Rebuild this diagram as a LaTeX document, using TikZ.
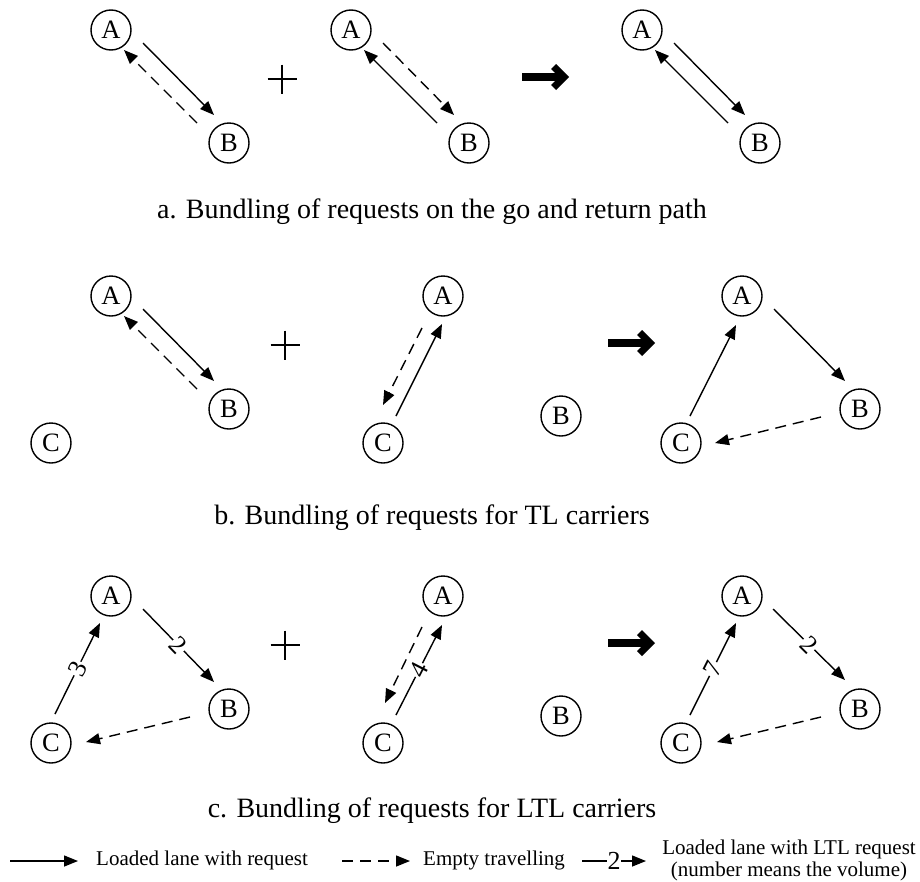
\documentclass[tikz,border=0pt]{standalone}
\usepackage{fontspec}
\setmainfont{Liberation Serif}
\usetikzlibrary{arrows.meta}
\begin{document}
\begin{tikzpicture}[x=1pt,y=-1pt,
  stn/.style={circle,draw,line width=1.4pt,minimum size=40pt,inner sep=0pt,font=\fontsize{26.5}{26.5}\selectfont},
  load/.style={line width=1.4pt,-{Triangle[length=14pt,width=11pt]}},
  empty/.style={load,dash pattern=on 11pt off 7pt},
  vol/.style={fill=white,inner sep=1pt,sloped,font=\fontsize{26}{26}\selectfont},
  captxt/.style={anchor=base,inner sep=0pt,font=\fontsize{28}{28}\selectfont},
  legtxt/.style={anchor=base west,inner sep=0pt,font=\fontsize{21}{21}\selectfont},
  legtxtc/.style={anchor=base,inner sep=0pt,font=\fontsize{21}{21}\selectfont},
  plussign/.pic={\draw[line width=2.7pt] (-14.5,0) -- (14.5,0) (0,-14.5) -- (0,14.5);},
  bigarrow/.pic={\fill (0,-4) rectangle (39,4);
    \fill (47,0) -- (34,-13) -- (29,-8) -- (37,0) -- (29,8) -- (34,13) -- cycle;}
]
\useasboundingbox (0,0) rectangle (920,881);

% ---------- row a ----------
\node[stn] (a1A) at (111,30) {A};
\node[stn] (a1B) at (229,143) {B};
\node[stn] (a2A) at (351,30) {A};
\node[stn] (a2B) at (469,143) {B};
\node[stn] (a3A) at (642,30) {A};
\node[stn] (a3B) at (760,143) {B};
\draw[load] ([shift={(32,13)}]a1A.center) -- ([shift={(-15,-28)}]a1B.center);
\draw[empty] ([shift={(-32,-20)}]a1B.center) -- ([shift={(13,20)}]a1A.center);
\draw[empty] ([shift={(32,13)}]a2A.center) -- ([shift={(-15,-28)}]a2B.center);
\draw[load] ([shift={(-32,-20)}]a2B.center) -- ([shift={(13,20)}]a2A.center);
\draw[load] ([shift={(32,13)}]a3A.center) -- ([shift={(-15,-28)}]a3B.center);
\draw[load] ([shift={(-32,-20)}]a3B.center) -- ([shift={(13,20)}]a3A.center);
\pic at (282,79) {plussign};
\pic at (522,77) {bigarrow};
\node[captxt] at (432,218) {a. Bundling of requests on the go and return path};

% ---------- row b ----------
\node[stn] (b1A) at (111,296) {A};
\node[stn] (b1B) at (229,409) {B};
\node[stn] (b1C) at (51,443) {C};
\node[stn] (b2A) at (443,296) {A};
\node[stn] (b2B) at (561,416) {B};
\node[stn] (b2C) at (383,443) {C};
\node[stn] (b3A) at (742,296) {A};
\node[stn] (b3B) at (860,409) {B};
\node[stn] (b3C) at (681,443) {C};
\draw[load] ([shift={(32,13)}]b1A.center) -- ([shift={(-15,-28)}]b1B.center);
\draw[empty] ([shift={(-32,-20)}]b1B.center) -- ([shift={(13,20)}]b1A.center);
\draw[empty] ([shift={(-21,32)}]b2A.center) -- ([shift={(0,-38)}]b2C.center);
\draw[load] ([shift={(13,-27)}]b2C.center) -- ([shift={(-1,28)}]b2A.center);
\draw[load] ([shift={(32,13)}]b3A.center) -- ([shift={(-15,-28)}]b3B.center);
\draw[load] ([shift={(9,-27)}]b3C.center) -- ([shift={(-6,29)}]b3A.center);
\draw[empty] ([shift={(-39,8)}]b3B.center) -- ([shift={(34,0)}]b3C.center);
\pic at (285,345) {plussign};
\pic at (608,343) {bigarrow};
\node[captxt] at (432,524) {b. Bundling of requests for TL carriers};

% ---------- row c ----------
\node[stn] (c1A) at (111,596) {A};
\node[stn] (c1B) at (229,709) {B};
\node[stn] (c1C) at (51,743) {C};
\node[stn] (c2A) at (443,596) {A};
\node[stn] (c2B) at (561,716) {B};
\node[stn] (c2C) at (383,743) {C};
\node[stn] (c3A) at (742,596) {A};
\node[stn] (c3B) at (860,709) {B};
\node[stn] (c3C) at (681,743) {C};
\draw[load] ([shift={(32,13)}]c1A.center) -- node[vol] {2} ([shift={(-15,-27)}]c1B.center);
\draw[load] ([shift={(4,-29)}]c1C.center) -- node[vol] {3} ([shift={(-11,27)}]c1A.center);
\draw[empty] ([shift={(-39,8)}]c1B.center) -- ([shift={(35,-1)}]c1C.center);
\draw[empty] ([shift={(-21,31)}]c2A.center) -- ([shift={(2,-40)}]c2C.center);
\draw[load] ([shift={(13,-28)}]c2C.center) -- node[vol] {4} ([shift={(-1,29)}]c2A.center);
\draw[load] ([shift={(31,13)}]c3A.center) -- node[vol] {2} ([shift={(-15,-29)}]c3B.center);
\draw[load] ([shift={(9,-28)}]c3C.center) -- node[vol] {7} ([shift={(-6,27)}]c3A.center);
\draw[empty] ([shift={(-39,8)}]c3B.center) -- ([shift={(36,-1)}]c3C.center);
\pic at (285,645) {plussign};
\pic at (608,643) {bigarrow};
\node[captxt] at (432,817) {c. Bundling of requests for LTL carriers};

% ---------- legend ----------
\coordinate (l1s) at (10,861);
\coordinate (l1e) at (78,861);
\draw[load] (l1s) -- (l1e);
\node[legtxt] at (96,865) {Loaded lane with request};
\coordinate (l2s) at (342,861);
\coordinate (l2e) at (410,861);
\draw[empty] (l2s) -- (l2e);
\node[legtxt] at (423,865) {Empty travelling};
\coordinate (l3s) at (582,861);
\coordinate (l3e) at (646,861);
\draw[load] (l3s) -- node[fill=white,inner sep=0.5pt,font=\fontsize{26}{26}\selectfont] {2} (l3e);
\node[legtxtc] at (789,854) {Loaded lane with LTL request};
\node[legtxtc] at (789,876) {(number means the volume)};
\end{tikzpicture}
\end{document}
